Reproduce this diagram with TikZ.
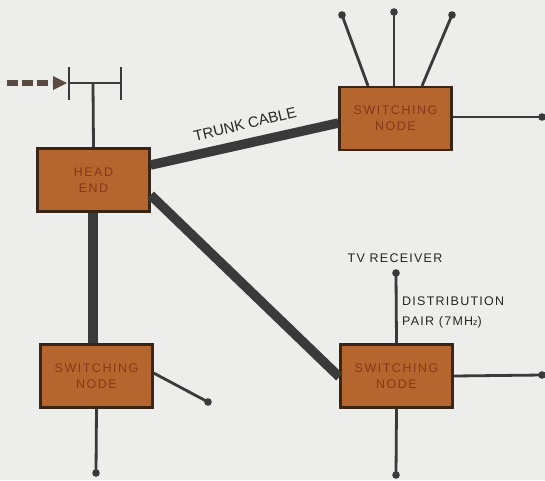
\documentclass[tikz,border=0pt]{standalone}
\usepackage{fontspec}
\setmainfont{Liberation Sans}
\newfontfamily\lblfont[LetterSpace=10]{Liberation Sans}
\newfontfamily\plainfont{Liberation Sans}
\newfontfamily\boxfont[LetterSpace=12]{Liberation Sans}
\usetikzlibrary{arrows.meta}
\definecolor{bgc}{HTML}{EDEDEB}
\definecolor{linec}{HTML}{3A3A3A}
\definecolor{boxfill}{HTML}{B5652E}
\definecolor{boxedge}{HTML}{3A2618}
\definecolor{boxtext}{HTML}{86381A}
\definecolor{arrc}{HTML}{5A4A42}
\tikzset{
  unitbox/.style={draw=boxedge, line width=2.2pt, fill=boxfill, minimum width=112pt, minimum height=63pt, inner sep=0pt, align=center, font=\boxfont\fontsize{12.5}{16}\selectfont, text=boxtext},
  thin/.style={draw=linec, line width=2.8pt},
  thick/.style={draw=linec, line width=9.5pt},
  dotend/.style={fill=linec},
  lbl/.style={font=\lblfont\fontsize{12.5}{20}\selectfont, text=black!85, inner sep=0pt}
}
\begin{document}
\begin{tikzpicture}[x=1pt, y=-1pt]
\fill[bgc] (0,0) rectangle (545,480);
\useasboundingbox (0,0) rectangle (545,480);

% boxes
\node[unitbox] (he) at (93.5,180) {HEAD\\END};
\node[unitbox] (tsn) at (395.5,118.5) {SWITCHING\\NODE};
\node[unitbox] (bl) at (96.5,376) {SWITCHING\\NODE};
\node[unitbox] (br) at (396.5,376) {SWITCHING\\NODE};

% antenna at head end
\coordinate (ant) at (93,83);
\coordinate (antL) at (69,83);
\coordinate (antR) at (121,83);
\coordinate (src) at (7,83);
\draw[thin] (he.north) -- (ant);
\draw[thin] (antL) -- (antR);
\draw[thin] ([yshift=16pt]antL) -- ([yshift=-17pt]antL);
\draw[thin] ([yshift=16pt]antR) -- ([yshift=-17pt]antR);
\draw[draw=arrc, line width=5.5pt, dash pattern=on 11pt off 4pt] (src) -- ([xshift=-17pt]antL);
\fill[arrc] ([xshift=-2pt]antL) -- ([xshift=-16pt,yshift=7pt]antL) -- ([xshift=-16pt,yshift=-7pt]antL) -- cycle;

% trunk cables
\draw[thick] ([yshift=15pt]he.east) -- ([yshift=-4.5pt]tsn.west);
\draw[thick] ([yshift=-15pt]he.east) -- ([yshift=-1pt]br.west);
\draw[thick] ([xshift=-0.5pt]he.south) -- ([xshift=-3.5pt]bl.north);
\node[lbl, font=\plainfont\fontsize{15}{16}\selectfont, rotate=13.4] (trunk) at (245,124) {TRUNK CABLE};

% top switching node branches
\coordinate (t1) at (342,15);
\coordinate (t2) at (394,12);
\coordinate (t3) at (452,15);
\coordinate (t4) at (542,117);
\draw[thin] ([xshift=-27.5pt]tsn.north) -- (t1);
\draw[thin] ([xshift=-1.5pt]tsn.north) -- (t2);
\draw[thin] ([xshift=26.5pt]tsn.north) -- (t3);
\draw[thin] ([yshift=1.5pt]tsn.east) -- (t4);
\foreach \p in {t1,t2,t3,t4} \fill[dotend] (\p) circle (3.8pt);

% bottom-left switching node branches
\coordinate (b1) at (208,402);
\coordinate (b2) at (96,473);
\draw[thin] ([yshift=3pt]bl.east) -- (b1);
\draw[thin] (bl.south) -- (b2);
\foreach \p in {b1,b2} \fill[dotend] (\p) circle (3.8pt);

% bottom-right switching node branches
\coordinate (r1) at (396,273);
\coordinate (r2) at (542,375);
\coordinate (r3) at (396,475);
\draw[thin] (br.north) -- (r1);
\draw[thin] (br.east) -- (r2);
\draw[thin] (br.south) -- (r3);
\foreach \p in {r1,r2,r3} \fill[dotend] (\p) circle (3.8pt);

% labels
\node[lbl] (tv) at (395,258) {TV RECEIVER};
\node[lbl, anchor=west, align=left] (dist) at (402,312) {DISTRIBUTION\\PAIR (7MH{\fontsize{9}{9}\selectfont z})};
\end{tikzpicture}
\end{document}
